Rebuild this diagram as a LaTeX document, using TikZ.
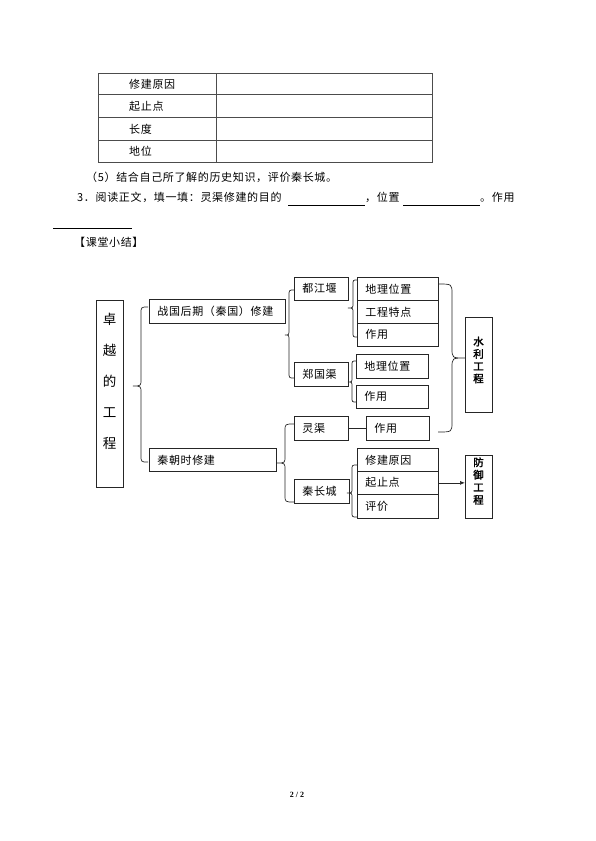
\documentclass[tikz,border=0pt]{standalone}
\usepackage{fontspec}
\setmainfont{Noto Sans CJK SC}[LetterSpace=6]
\newfontfamily\cjkb{Noto Sans CJK SC}[FakeBold=2]
\newfontfamily\pnum{Liberation Serif}
\usetikzlibrary{arrows.meta}
\newcommand\mybrace[7]{\draw[brc] (#1,#2) .. controls (#3,#2) .. (#3,#2+#7) -- (#3,#5-#7) .. controls (#3,#5) .. (#4,#5) .. controls (#3,#5) .. (#3,#5+#7) -- (#3,#6-#7) .. controls (#3,#6) .. (#1,#6);}
\begin{document}
\begin{tikzpicture}[x=1pt,y=-1pt]
\tikzset{
  fs/.style={font=\fontsize{11}{13}\selectfont},
  tx/.style={fs, anchor=west, inner sep=0pt},
  box/.style={fs, draw=black!85, line width=0.7pt, anchor=north west, inner xsep=8pt, inner ysep=0pt, align=left},
  vbox/.style={draw=black!85, line width=0.7pt, anchor=north west, inner sep=0pt},
  brc/.style={draw=black!85, line width=0.7pt},
  tbl/.style={draw=black!70, line width=0.7pt},
  conn/.style={draw=black!85, line width=0.7pt},
}
\fill[white] (0,0) rectangle (595,841);
\useasboundingbox (0,0) rectangle (595,841);

% table
\draw[tbl] (98,73) rectangle (432,162);
\draw[tbl] (216,73) -- (216,162);
\draw[tbl] (98,94) -- (432,94);
\draw[tbl] (98,117) -- (432,117);
\draw[tbl] (98,140) -- (432,140);
\node[tx] (r1) at (129,84) {修建原因};
\node[tx] (r2) at (129,106) {起止点};
\node[tx] (r3) at (129,129) {长度};
\node[tx] (r4) at (129,151) {地位};

% text lines
\node[tx] (l5) at (86,177) {（5）结合自己所了解的历史知识，评价秦长城。};
\node[tx] (l3a) at (77,197) {3．阅读正文，填一填：灵渠修建的目的};
\coordinate (u1a) at (288,205); \coordinate (u1b) at (365,205);
\draw[line width=0.5pt] (u1a) -- (u1b);
\node[tx] (l3b) at (365,197) {，位置};
\coordinate (u2a) at (403,205); \coordinate (u2b) at (480,205);
\draw[line width=0.5pt] (u2a) -- (u2b);
\node[tx] (l3c) at (480,197) {。作用};
\coordinate (u3a) at (53,228); \coordinate (u3b) at (132,228);
\draw[line width=0.5pt] (u3a) -- (u3b);
\node[tx] (ktxj) at (74,242) {【课堂小结】};

% diagram boxes
\node[vbox, minimum width=27pt, minimum height=187pt] (root) at (96,300) {};
\node[font=\fontsize{13.5}{31}\selectfont, align=center, inner sep=0pt] (roott) at (109.5,381) {卓\\越\\的\\工\\程};

\node[box, text width=120pt, minimum height=24pt] (zg) at (149,299) {战国后期（秦国）修建};
\node[box, text width=111pt, minimum height=23pt] (qc) at (149,448) {秦朝时修建};

\node[box, text width=38pt, minimum height=23pt] (djy) at (294,277) {都江堰};
\node[box, text width=38pt, minimum height=24pt] (zgq) at (294,362) {郑国渠};
\node[box, text width=38pt, minimum height=24pt] (lq) at (294,416) {灵渠};
\node[box, text width=39pt, minimum height=24pt] (qcc) at (294,479) {秦长城};

\node[box, text width=65pt, minimum height=23pt] (d1) at (357,277) {地理位置};
\node[box, text width=65pt, minimum height=23pt] (d2) at (357,300) {工程特点};
\node[box, text width=65pt, minimum height=23pt] (d3) at (357,323) {作用};

\node[box, text width=56pt, minimum height=24pt] (z1) at (356,354) {地理位置};
\node[box, text width=56pt, minimum height=23pt] (z2) at (356,385) {作用};

\node[box, text width=47pt, minimum height=24pt] (lz) at (366,416) {作用};

\node[box, text width=65pt, minimum height=23pt] (c1) at (357,448) {修建原因};
\node[box, text width=65pt, minimum height=23pt] (c2) at (357,471) {起止点};
\node[box, text width=65pt, minimum height=24pt] (c3) at (357,494) {评价};

\node[vbox, minimum width=27pt, minimum height=95pt] (sl) at (465,317) {};
\node[font=\cjkb\fontsize{10.5}{12.3}\selectfont, align=center, inner sep=0pt] (slt) at (478.5,360) {水\\利\\工\\程};
\node[vbox, minimum width=27pt, minimum height=63pt] (fy) at (465,455) {};
\node[font=\cjkb\fontsize{10.5}{12.5}\selectfont, align=center, inner sep=0pt] (fyt) at (478.5,481) {防\\御\\工\\程};

% braces
\mybrace{148}{307}{141}{133}{386}{462}{7}
\mybrace{294}{290}{289}{285}{335}{378}{6}
\mybrace{357}{280}{353}{348}{308}{337}{5}
\mybrace{356}{361}{352}{348}{382}{402}{5}
\mybrace{294}{424}{285}{277}{463}{502}{7}
\mybrace{357}{465}{352}{347}{493}{517}{5}
\mybrace{438}{284}{452}{465}{358}{432}{10}

% connectors
\draw[conn] (lq.east) -- (lz.west);
\draw[conn, -{Latex[length=5pt,width=4pt]}] (c2.east) -- (fy.west |- c2.east);

% page number
\node[font=\pnum\bfseries\fontsize{8}{9}\selectfont, inner sep=0pt] (pg) at (297,795) {2 / 2};
\end{tikzpicture}
\end{document}
